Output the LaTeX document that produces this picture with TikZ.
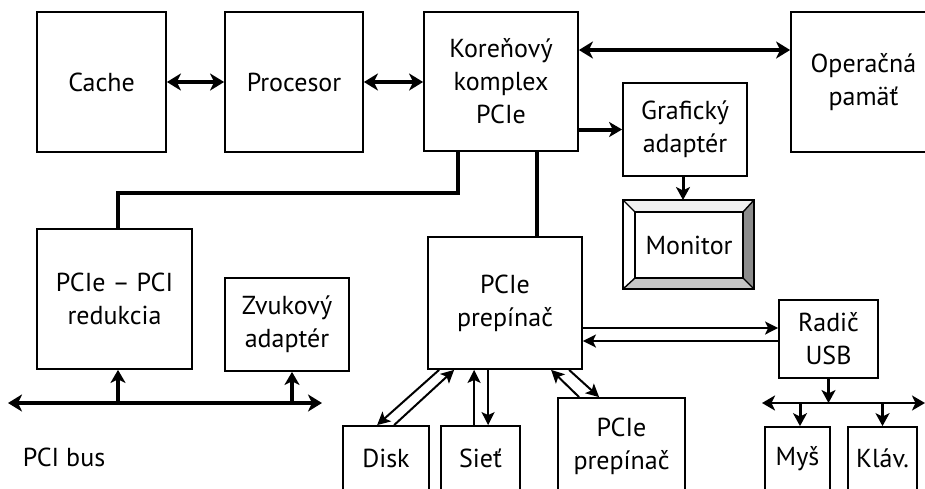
\documentclass[tikz,border=0pt]{standalone}
\usepackage{fontspec}
\setmainfont{PT Sans}
\usetikzlibrary{arrows.meta,calc}

\tikzset{
  blk/.style={draw, line width=1.8pt, fill=white, align=center, inner sep=0pt},
  fatline/.style={line width=4.5pt},
  fatdbl/.style={line width=4pt, {Stealth[length=14pt,width=17pt,inset=4pt]}-{Stealth[length=14pt,width=17pt,inset=4pt]}},
  fatarr/.style={line width=4pt, -{Stealth[length=13pt,width=15pt,inset=3.5pt]}},
  busdbl/.style={line width=4pt, {Stealth[length=14pt,width=17pt,inset=4pt]}-{Stealth[length=14pt,width=17pt,inset=4pt]}},
  usbdbl/.style={line width=2.4pt, {Stealth[length=13pt,width=15pt,inset=3.5pt]}-{Stealth[length=13pt,width=15pt,inset=3.5pt]}},
  slimarr/.style={line width=2pt, -{Stealth[length=13pt,width=13pt,inset=3pt]}},
  midarr/.style={line width=3pt, -{Stealth[length=13pt,width=14pt,inset=3.5pt]}},
}

\begin{document}
\begin{tikzpicture}[x=1pt,y=-1pt,font=\fontsize{26}{33}\selectfont]
\useasboundingbox (0,0) rectangle (925,488);
\clip (0,0) rectangle (925,488);

% --- top row ---
\node[blk, minimum width=129pt, minimum height=140pt] (cache) at (101.5,82) {Cache};
\node[blk, minimum width=138pt, minimum height=140pt] (proc) at (294,82) {Procesor};
\node[blk, minimum width=154pt, minimum height=139pt] (root) at (501,81.5) {Koreňový\\komplex\\PCIe};
\node[blk, minimum width=145pt, minimum height=140pt] (mem) at (863.5,82) {Operačná\\pamäť};
\node[blk, minimum width=124pt, minimum height=93pt] (gfx) at (685,129.5) {Grafický\\adaptér};

% --- monitor with bevelled frame ---
\node[minimum width=131pt, minimum height=89pt, outer sep=0pt, inner sep=0pt] (monframe) at (688.5,244.5) {};
\node[minimum width=108pt, minimum height=66pt, outer sep=0pt, inner sep=0pt, fill=white] (mon) at (689,245) {Monitor};
\fill[black!6] (monframe.north west) -- (monframe.north east) -- (mon.north east) -- (mon.north west) -- cycle;
\fill[white] (monframe.north west) -- (mon.north west) -- (mon.south west) -- (monframe.south west) -- cycle;
\fill[black!45] (monframe.north east) -- (monframe.south east) -- (mon.south east) -- (mon.north east) -- cycle;
\fill[black!22] (monframe.south west) -- (mon.south west) -- (mon.south east) -- (monframe.south east) -- cycle;
\draw[line width=1.8pt] (monframe.north west) rectangle (monframe.south east);
\draw[line width=1.8pt] (mon.north west) rectangle (mon.south east);
\draw[line width=1.4pt] (monframe.north west) -- (mon.north west)
                        (monframe.north east) -- (mon.north east)
                        (monframe.south west) -- (mon.south west)
                        (monframe.south east) -- (mon.south east);

% --- middle row ---
\node[blk, minimum width=155pt, minimum height=140pt] (bridge) at (114.5,299) {PCIe – PCI\\redukcia};
\node[blk, minimum width=124pt, minimum height=93pt] (sound) at (287,324.5) {Zvukový\\adaptér};
\node[blk, minimum width=154pt, minimum height=132pt] (sw) at (505,303) {PCIe\\prepínač};
\node[blk, minimum width=99pt, minimum height=78pt] (usb) at (828.5,339) {Radič\\USB};

% --- bottom row ---
\node[blk, minimum width=86pt, minimum height=64pt] (disk) at (386,458) {Disk};
\node[blk, minimum width=79pt, minimum height=64pt] (net) at (480.5,458) {Sieť};
\node[blk, minimum width=127pt, minimum height=96pt] (sw2) at (621.5,446) {PCIe\\prepínač};
\node[blk, minimum width=65pt, minimum height=63pt] (mouse) at (797.5,458.5) {Myš};
\node[blk, minimum width=69pt, minimum height=63pt] (kbd) at (882.5,458.5) {Kláv.};

\node (pcilabel) at (64,457) {PCI bus};

% --- bus end points and taps ---
\coordinate (pciL) at (8,403);
\coordinate (pciR) at (322,403);
\coordinate (usbL) at (762,403);
\coordinate (usbR) at (925,403);
\coordinate (bridgeturn) at (0,193);
\coordinate (swtap) at (537,0);

% --- links among the top blocks ---
\draw[fatdbl] (cache.east) -- (proc.west);
\draw[fatdbl] (proc.east) -- (proc.east -| root.west);
\draw[fatdbl] ([yshift=31.5pt]root.east) -- ([yshift=31.5pt]root.east -| mem.west);
\draw[fatarr] (root.east |- gfx.west) -- (gfx.west);
\draw[midarr] ([xshift=-2pt]gfx.south) -- ([xshift=-2pt]gfx.south |- monframe.north);

% --- root complex down to the bridge and the switch ---
\draw[fatline] ([xshift=-43pt]root.south) -- ([xshift=-43pt]root.south |- bridgeturn) -| ([xshift=3.5pt]bridge.north);
\draw[fatline] (root.south -| swtap) -- (sw.north -| swtap);

% --- PCI bus ---
\draw[busdbl] (pciL) -- (pciR);
\draw[fatarr] ([xshift=3.5pt]bridge.south |- pciL) -- ([xshift=3.5pt]bridge.south);
\draw[fatarr] ([xshift=5pt]sound.south |- pciL) -- ([xshift=5pt]sound.south);

% --- switch to USB controller ---
\draw[slimarr] ([yshift=-25pt]sw.east) -- ([yshift=-25pt]sw.east -| usb.west);
\draw[slimarr] ([yshift=-38pt]sw.east -| usb.west) -- ([yshift=-38pt]sw.east);

% --- switch to disk, network and second switch ---
\draw[slimarr] ([xshift=12pt]sw.south west) -- ([xshift=35pt]disk.north west);
\draw[slimarr] ([xshift=52pt]disk.north west) -- ([xshift=27pt]sw.south west);
\draw[slimarr] ([xshift=34pt]net.north west) -- ([xshift=34pt]net.north west |- sw.south);
\draw[slimarr] ([xshift=48pt]net.north west |- sw.south) -- ([xshift=48pt]net.north west);
\draw[slimarr] ([xshift=22pt]sw2.north west) -- ([xshift=124pt]sw.south west);
\draw[slimarr] ([xshift=142pt]sw.south west) -- ([xshift=42pt]sw2.north west);

% --- USB bus ---
\draw[usbdbl] (usbL) -- (usbR);
\draw[midarr] (usb.south) -- (usb.south |- usbL);
\draw[midarr] ([xshift=2.5pt]mouse.north |- usbL) -- ([xshift=2.5pt]mouse.north);
\draw[midarr] (kbd.north |- usbL) -- (kbd.north);
\end{tikzpicture}
\end{document}
